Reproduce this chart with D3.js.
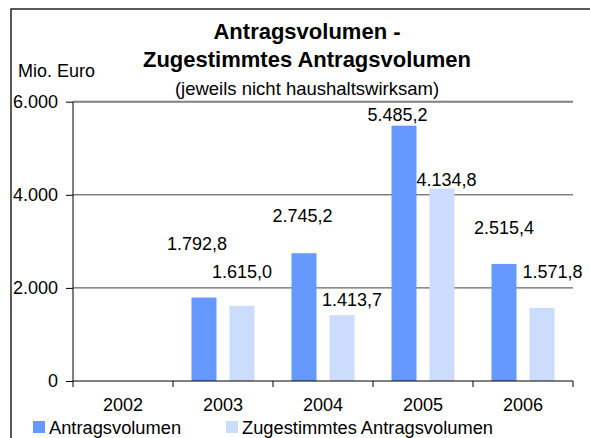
<!DOCTYPE html>
<html><head><meta charset="utf-8">
<script src="https://cdn.jsdelivr.net/npm/d3@7"></script>
<style>body{margin:0;background:#fff}svg{display:block;font-family:"Liberation Sans",Arial,sans-serif}</style>
</head><body>
<svg id="c" width="590" height="438"></svg>
<script>
const categories = ["2002","2003","2004","2005","2006"];
const antragsvolumen = [null, 1792.8, 2745.2, 5485.2, 2515.4];
const zugestimmt = [null, 1615.0, 1413.7, 4134.8, 1571.8];
const seriesNames = ["Antragsvolumen","Zugestimmtes Antragsvolumen"];
const yTicks = [0, 2000, 4000, 6000];
// label anchors (value-axis position of label centre, horizontal nudge in px)
const labelYA = [null, 2943, 3545, 5714, 3287];
const labelYZ = [null, 2342, 1740, 4318, 2342];
const labelDxA = [0, -7, -1.5, -6.5, 0];
const labelDxZ = [0, 0, 10, 4.5, 10.5];

const colors = ["#6699ff", "#ccdcfc"];
const de = d3.formatLocale({decimal:",", thousands:".", grouping:[3], currency:["","€"]});
const fTick = de.format(",.0f"), fVal = de.format(",.1f");

const svg = d3.select("#c");
const L = 73, R = 573, T = 101.7, B = 381;
const x = d3.scaleBand().domain(categories).range([L, R]).padding(0);
const x1 = d3.scaleBand().domain(seriesNames).range([0, x.bandwidth()])
  .paddingInner(13/38).paddingOuter(18.5/38);
const y = d3.scaleLinear().domain([0, 6000]).range([B, T]);

// frame
svg.append("rect").attr("x", 11).attr("y", 9).attr("width", 620).attr("height", 460)
  .attr("fill", "none").attr("stroke", "#000").attr("stroke-width", 1.3);

// title
svg.append("text").attr("x", 307).attr("y", 39).attr("text-anchor", "middle")
  .attr("font-size", 22).attr("font-weight", "bold").text("Antragsvolumen -");
svg.append("text").attr("x", 307).attr("y", 67).attr("text-anchor", "middle")
  .attr("font-size", 22).attr("font-weight", "bold").text("Zugestimmtes Antragsvolumen");
svg.append("text").attr("x", 307).attr("y", 95).attr("text-anchor", "middle")
  .attr("font-size", 18.5).text("(jeweils nicht haushaltswirksam)");
svg.append("text").attr("x", 18).attr("y", 77).attr("font-size", 18).text("Mio. Euro");

// gridlines
svg.append("g").selectAll("line").data(yTicks.filter(d => d > 0)).join("line")
  .attr("x1", L).attr("x2", R).attr("y1", d => y(d)).attr("y2", d => y(d))
  .attr("stroke", d => d === 6000 ? "#808080" : "#404040")
  .attr("stroke-width", d => d === 6000 ? 2 : 1);

// bars
const rows = categories.map((c, i) => ({c, i, vals: [antragsvolumen[i], zugestimmt[i]]}));
const g = svg.append("g");
rows.forEach(r => {
  r.vals.forEach((v, k) => {
    if (v == null) return;
    g.append("rect")
      .attr("x", x(r.c) + x1(seriesNames[k])).attr("width", x1.bandwidth())
      .attr("y", y(v)).attr("height", y(0) - y(v)).attr("fill", colors[k]);
  });
});

// y axis
const ya = svg.append("g").attr("transform", `translate(${L},0)`)
  .call(d3.axisLeft(y).tickValues(yTicks).tickFormat(fTick).tickSize(7).tickPadding(8));
ya.select(".domain").attr("stroke", "#000").attr("d", `M0,${B}V${T}`);
ya.selectAll("text").attr("font-size", 18).attr("fill", "#000")
  .attr("font-family", '"Liberation Sans",Arial,sans-serif');
ya.selectAll("line").attr("stroke", "#000");

// x axis
const xa = svg.append("g").attr("transform", `translate(0,${B})`);
xa.append("line").attr("x1", L).attr("x2", R).attr("stroke", "#000");
xa.selectAll("line.t").data(categories.concat(["end"])).join("line").attr("class", "t")
  .attr("x1", (d, i) => i < categories.length ? x(d) : R)
  .attr("x2", (d, i) => i < categories.length ? x(d) : R)
  .attr("y1", 0).attr("y2", 6).attr("stroke", "#000");
xa.selectAll("text").data(categories).join("text")
  .attr("x", d => x(d) + x.bandwidth() / 2).attr("y", 30).attr("text-anchor", "middle")
  .attr("font-size", 18).text(d => d);

// value labels
rows.forEach(r => {
  [[antragsvolumen, labelYA, labelDxA], [zugestimmt, labelYZ, labelDxZ]].forEach(([arr, ly, ldx], k) => {
    const v = arr[r.i];
    if (v == null) return;
    svg.append("text")
      .attr("x", x(r.c) + x1(seriesNames[k]) + x1.bandwidth() / 2 + ldx[r.i])
      .attr("y", y(ly[r.i])).attr("dy", "0.36em").attr("text-anchor", "middle")
      .attr("font-size", 18).text(fVal(v));
  });
});

// legend
const lg = svg.append("g");
const legX = [33, 226];
seriesNames.forEach((n, k) => {
  lg.append("rect").attr("x", legX[k]).attr("y", 421).attr("width", 12).attr("height", 12).attr("fill", colors[k]);
  lg.append("text").attr("x", legX[k] + 16).attr("y", 434).attr("font-size", 18.3).text(n);
});
</script>
</body></html>
